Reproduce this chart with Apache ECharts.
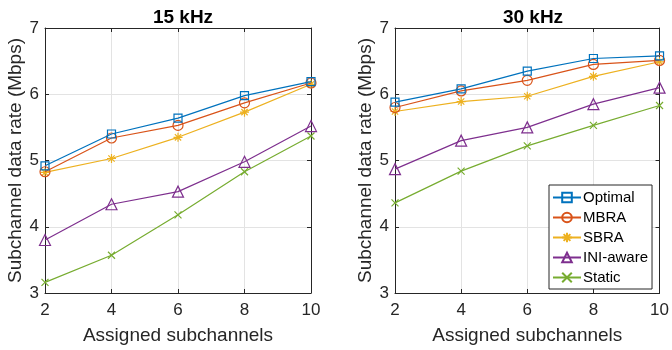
<!DOCTYPE html>
<html>
<head>
<meta charset="utf-8">
<script src="https://cdn.jsdelivr.net/npm/echarts@6/dist/echarts.min.js"></script>
<style>html,body{margin:0;padding:0;background:#fff}#c{width:672px;height:350px}</style>
</head>
<body>
<div id="c"></div>
<script>
const xTicks = [2, 4, 6, 8, 10];
const seriesNames = ['Optimal', 'MBRA', 'SBRA', 'INI-aware', 'Static'];
const panelTitles = ['15 kHz', '30 kHz'];
const optimal15 = [4.92, 5.40, 5.64, 5.98, 6.19];
const mbra15 = [4.83, 5.34, 5.53, 5.87, 6.17];
const sbra15 = [4.82, 5.03, 5.35, 5.73, 6.15];
const ini15 = [3.80, 4.34, 4.53, 4.98, 5.52];
const static15 = [3.16, 3.57, 4.18, 4.83, 5.37];
const optimal30 = [5.88, 6.08, 6.35, 6.54, 6.58];
const mbra30 = [5.80, 6.05, 6.21, 6.45, 6.51];
const sbra30 = [5.74, 5.89, 5.97, 6.27, 6.49];
const ini30 = [4.87, 5.30, 5.50, 5.85, 6.10];
const static30 = [4.36, 4.84, 5.22, 5.53, 5.83];

const colors = ['#0072BD', '#D95319', '#EDB120', '#7E2F8E', '#77AC30'];
const symbols = [
  ['rect', 8],
  ['circle', 10],
  ['path://M5,0L5,10M0,5L10,5M1.5,1.5L8.5,8.5M1.5,8.5L8.5,1.5', 9],
  ['triangle', 11],
  ['path://M0,0L10,10M0,10L10,0', 7]
];
const data15 = [optimal15, mbra15, sbra15, ini15, static15];
const data30 = [optimal30, mbra30, sbra30, ini30, static30];

const font = 'Liberation Sans, Arial, Helvetica, sans-serif';
const axisCol = '#262626';

function xAx(grid, pos, main) {
  return {
    type: 'value', gridIndex: grid, position: pos, min: 2, max: 10, interval: 2,
    axisLine: {show: true, onZero: false, lineStyle: {color: axisCol, width: 1}},
    axisTick: {show: true, inside: true, length: 4, lineStyle: {color: axisCol}},
    axisLabel: {show: main, color: axisCol, fontSize: 17, fontFamily: font, margin: 9},
    splitLine: {show: main, lineStyle: {color: '#e3e3e3', width: 1}},
    name: main ? 'Assigned subchannels' : '', nameLocation: 'middle', nameGap: 33,
    nameTextStyle: {color: axisCol, fontSize: 19, fontFamily: font}
  };
}
function yAx(grid, pos, main) {
  return {
    type: 'value', gridIndex: grid, position: pos, min: 3, max: 7, interval: 1,
    axisLine: {show: true, onZero: false, lineStyle: {color: axisCol, width: 1}},
    axisTick: {show: true, inside: true, length: 4, lineStyle: {color: axisCol}},
    axisLabel: {show: main, color: axisCol, fontSize: 17, fontFamily: font, margin: 6},
    splitLine: {show: main, lineStyle: {color: '#e3e3e3', width: 1}},
    name: main ? 'Subchannel data rate (Mbps)' : '', nameLocation: 'middle', nameGap: 16,
    nameTextStyle: {color: axisCol, fontSize: 19, fontFamily: font}
  };
}

const series = [];
[data15, data30].forEach((set, g) => {
  set.forEach((vals, i) => {
    series.push({
      name: seriesNames[i], type: 'line', xAxisIndex: g * 2, yAxisIndex: g * 2,
      data: xTicks.map((x, k) => [x, vals[k]]),
      symbol: symbols[i][0], symbolSize: symbols[i][1], showSymbol: true,
      lineStyle: {color: colors[i], width: 1.2},
      itemStyle: {color: 'none', borderColor: colors[i], borderWidth: 1.2},
      emphasis: {disabled: true}, animation: false, z: 10 - i
    });
  });
});

const chart = echarts.init(document.getElementById('c'), null, {renderer: 'canvas'});
chart.setOption({
  animation: false,
  title: panelTitles.map((t, g) => ({
    text: t, left: g === 0 ? 178 : 528, top: 3, textAlign: 'center',
    textStyle: {fontSize: 19, fontWeight: 'bold', color: '#000', fontFamily: font}
  })),
  grid: [
    {left: 45, right: 361, top: 28, bottom: 57},
    {left: 395, right: 11, top: 28, bottom: 57}
  ],
  xAxis: [xAx(0, 'bottom', true), xAx(0, 'top', false), xAx(1, 'bottom', true), xAx(1, 'top', false)],
  yAxis: [yAx(0, 'left', true), yAx(0, 'right', false), yAx(1, 'left', true), yAx(1, 'right', false)],
  legend: {
    data: seriesNames, orient: 'vertical', left: 549, top: 185,
    itemWidth: 28, itemHeight: 12, itemGap: 5, padding: [5, 4, 4, 3],
    borderColor: axisCol, borderWidth: 1, backgroundColor: '#fff',
    textStyle: {color: '#000', fontSize: 15, fontFamily: font, padding: [0, 0, 0, -3]},
    selectedMode: false
  },
  series: series
});
</script>
</body>
</html>
